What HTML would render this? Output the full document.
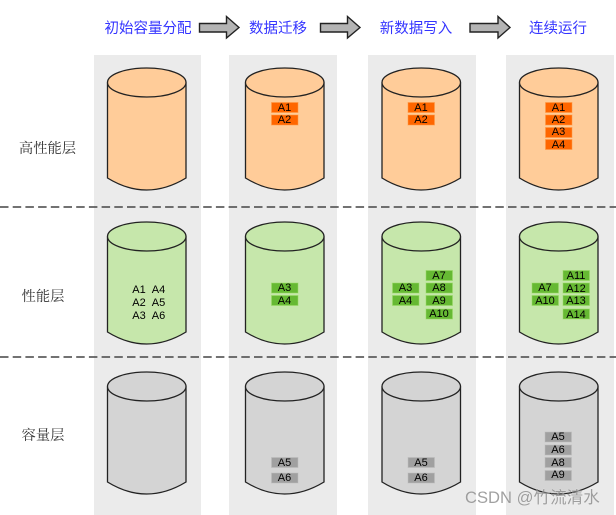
<!DOCTYPE html>
<html><head><meta charset="utf-8"><style>
html,body{margin:0;padding:0;background:#fff;width:616px;height:515px;overflow:hidden}
svg{display:block;filter:blur(.3px)}
.t{font:14.5px "Liberation Sans","Noto Sans CJK SC",sans-serif;fill:#3434ff;text-anchor:middle}
.l{font:14.3px "Liberation Serif","Noto Serif CJK SC",serif;fill:#333;text-anchor:middle}
.b{font:11px "Liberation Sans",sans-serif;fill:#000;text-anchor:middle}
.arrow{fill:#b4b4b4;stroke:#222;stroke-width:1.4}
.cyl{stroke:#222;stroke-width:1.3}
.bk rect{stroke-width:1;stroke-opacity:.55}
</style></head><body>
<svg width="616" height="515" viewBox="0 0 616 515" xmlns="http://www.w3.org/2000/svg">
<defs>
<g id="cb"><path class="cyl" d="M0 14.5V110Q39 134 78.500 110V14.500"/><ellipse class="cyl" cx="39.250" cy="14.500" rx="39.250" ry="14.500"/></g>
</defs>
<rect width="616" height="515" fill="#fff"/>
<g fill="#ebebeb">
<rect x="94" y="55" width="107" height="460"/>
<rect x="229" y="55" width="108" height="460"/>
<rect x="368" y="55" width="108" height="460"/>
<rect x="506" y="55" width="108" height="460"/>
</g>
<g class="arrow">
<path d="M199.500 23.500H226.500V16.500L239 27.500L226.500 38V32H199.500Z"/>
<path d="M320.500 23.500H347.500V16.500L360 27.500L347.500 38V32H320.500Z"/>
<path d="M470 23.500H498V16.500L510 27.500L498 38V32H470Z"/>
</g>
<text class="t" x="148" y="33">初始容量分配</text>
<text class="t" x="278" y="33">数据迁移</text>
<text class="t" x="416" y="33">新数据写入</text>
<text class="t" x="558" y="33">连续运行</text>
<text class="l" x="47.500" y="153">高性能层</text>
<text class="l" x="43" y="301">性能层</text>
<text class="l" x="43" y="440">容量层</text>
<g fill="#ffcc99">
<use href="#cb" x="107.500" y="68"/><use href="#cb" x="245.500" y="68"/><use href="#cb" x="382" y="68"/><use href="#cb" x="519.500" y="68"/>
</g>
<g fill="#c6e7ab">
<use href="#cb" x="107.500" y="222"/><use href="#cb" x="245.500" y="222"/><use href="#cb" x="382" y="222"/><use href="#cb" x="519.500" y="222"/>
</g>
<g fill="#d4d4d4">
<use href="#cb" x="107.500" y="372"/><use href="#cb" x="245.500" y="372"/><use href="#cb" x="382" y="372"/><use href="#cb" x="519.500" y="372"/>
</g>
<g stroke="#444" stroke-width="1.500" stroke-dasharray="8.500 4.200">
<line x1="0" y1="207" x2="616" y2="207"/>
<line x1="0" y1="357" x2="616" y2="357"/>
</g>
<g class="bk" fill="#ff6600" stroke="#ff9944">
<rect x="271.500" y="102.500" width="26.500" height="10"/><rect x="271.500" y="115" width="26.500" height="10"/>
<rect x="408" y="102.500" width="26.500" height="10"/><rect x="408" y="115" width="26.500" height="10"/>
<rect x="545.500" y="102.500" width="26.500" height="10"/><rect x="545.500" y="115" width="26.500" height="10"/><rect x="545.500" y="127.500" width="26.500" height="10"/><rect x="545.500" y="139.500" width="26.500" height="10"/>
</g>
<g class="bk" fill="#66b933" stroke="#99dd66">
<rect x="271.500" y="283" width="26.500" height="10"/><rect x="271.500" y="295.500" width="26.500" height="10"/>
<rect x="392.500" y="283" width="26.500" height="10"/><rect x="392.500" y="295.500" width="26.500" height="10"/>
<rect x="426" y="270.500" width="26.500" height="10"/><rect x="426" y="283" width="26.500" height="10"/><rect x="426" y="295.500" width="26.500" height="10"/><rect x="426" y="309" width="26.500" height="10"/>
<rect x="532" y="283" width="26.500" height="10"/><rect x="532" y="295.500" width="26.500" height="10"/>
<rect x="563" y="270.500" width="26.500" height="10"/><rect x="563" y="283" width="26.500" height="10"/><rect x="563" y="295.500" width="26.500" height="10"/><rect x="563" y="309" width="26.500" height="10"/>
</g>
<g class="bk" fill="#a0a0a0" stroke="#bbb">
<rect x="271.500" y="457.500" width="26.500" height="10"/><rect x="271.500" y="473" width="26.500" height="10"/>
<rect x="408" y="457.500" width="26.500" height="10"/><rect x="408" y="473" width="26.500" height="10"/>
<rect x="545" y="432" width="26.500" height="10"/><rect x="545" y="445" width="26.500" height="10"/><rect x="545" y="457.500" width="26.500" height="10"/><rect x="545" y="470.500" width="26.500" height="10"/>
</g>
<g class="b">
<text x="139" y="293">A1</text><text x="158.500" y="293">A4</text>
<text x="139" y="306">A2</text><text x="158.500" y="306">A5</text>
<text x="139" y="319">A3</text><text x="158.500" y="319">A6</text>
<text x="284.500" y="111">A1</text><text x="284.500" y="123">A2</text>
<text x="421" y="111">A1</text><text x="421" y="123">A2</text>
<text x="558.500" y="111">A1</text><text x="558.500" y="123">A2</text><text x="558.500" y="135">A3</text><text x="558.500" y="148">A4</text>
<text x="284.500" y="291">A3</text><text x="284.500" y="304">A4</text>
<text x="405.500" y="291">A3</text><text x="405.500" y="304">A4</text>
<text x="439" y="279">A7</text><text x="439" y="291">A8</text><text x="439" y="304">A9</text><text x="439" y="317">A10</text>
<text x="545" y="291">A7</text><text x="545" y="304">A10</text>
<text x="576" y="279">A11</text><text x="576" y="292">A12</text><text x="576" y="304">A13</text><text x="576" y="318">A14</text>
<text x="284.500" y="466">A5</text><text x="284.500" y="481">A6</text>
<text x="421" y="466">A5</text><text x="421" y="481">A6</text>
<text x="558" y="440">A5</text><text x="558" y="453">A6</text><text x="558" y="466">A8</text><text x="558" y="478">A9</text>
</g>
<text x="465" y="503" style="font:16.6px 'Liberation Sans','Noto Sans CJK SC',sans-serif" fill="#8a8a8a" fill-opacity=".8" stroke="#fff" stroke-opacity=".35" stroke-width=".6" paint-order="stroke">CSDN @竹流清水</text>
</svg>
</body></html>
